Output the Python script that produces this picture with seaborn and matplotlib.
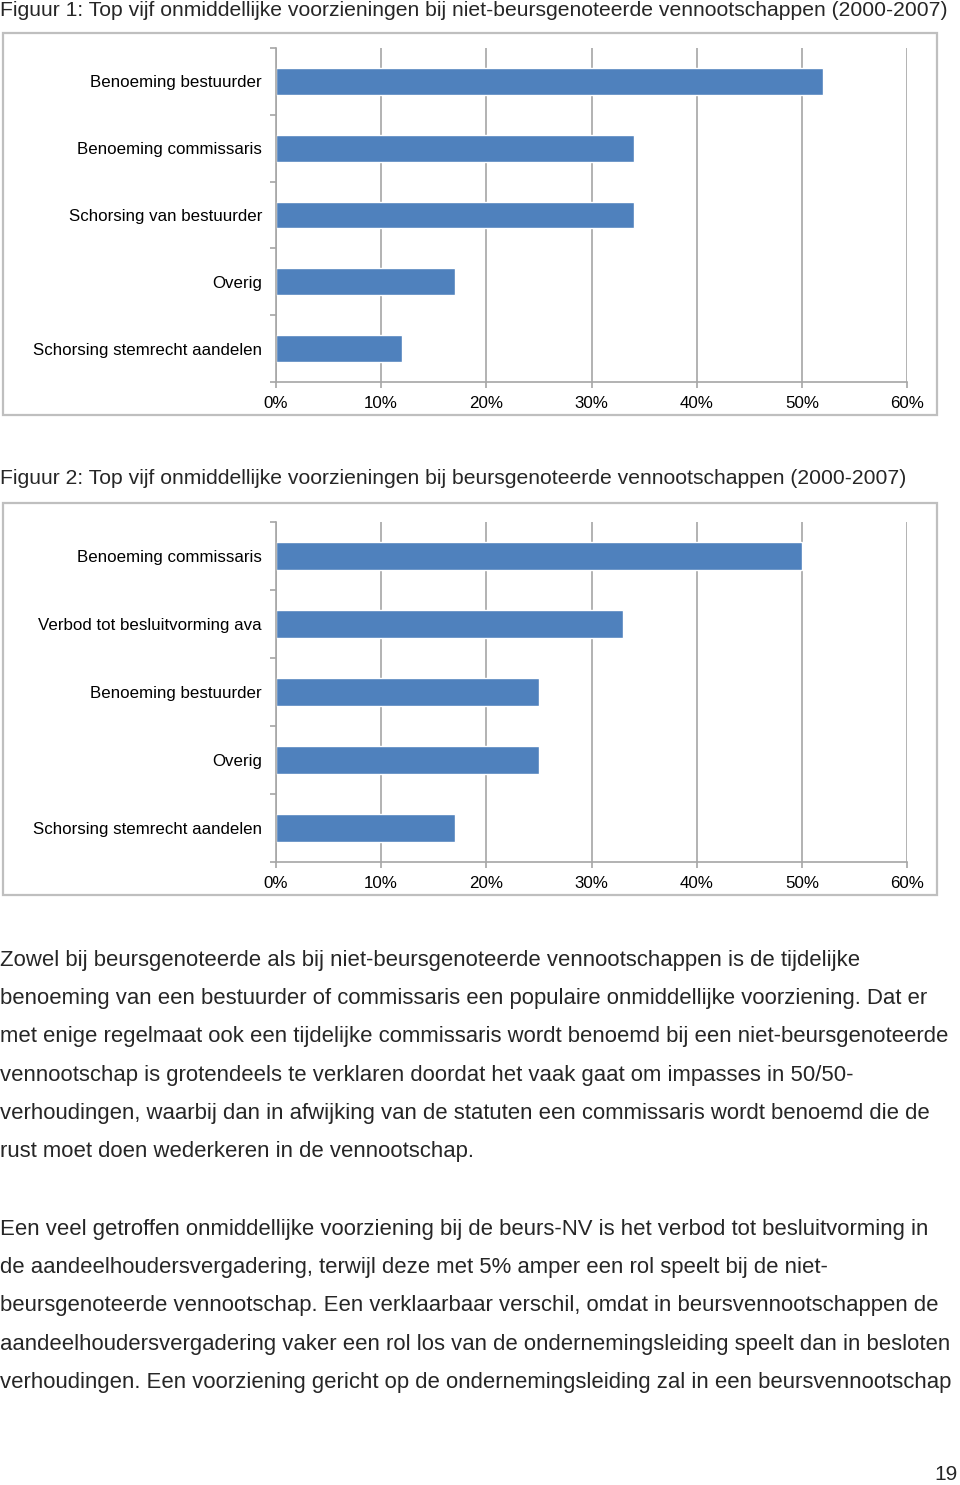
import numpy as np
import pandas as pd
import matplotlib
matplotlib.use('Agg')
import matplotlib.pyplot as plt
import seaborn as sns
from matplotlib.patches import Rectangle

# Figuur 1: niet-beursgenoteerde vennootschappen (percentages)
labels_1 = ['Benoeming bestuurder', 'Benoeming commissaris', 'Schorsing van bestuurder',
            'Overig', 'Schorsing stemrecht aandelen']
values_1 = [52, 34, 34, 17, 12]

# Figuur 2: beursgenoteerde vennootschappen (percentages)
labels_2 = ['Benoeming commissaris', 'Verbod tot besluitvorming ava', 'Benoeming bestuurder',
            'Overig', 'Schorsing stemrecht aandelen']
values_2 = [50, 33, 25, 25, 17]

x_ticks = [0, 10, 20, 30, 40, 50, 60]

title_1 = 'Figuur 1: Top vijf onmiddellijke voorzieningen bij niet-beursgenoteerde vennootschappen (2000-2007)'
title_2 = 'Figuur 2: Top vijf onmiddellijke voorzieningen bij beursgenoteerde vennootschappen (2000-2007)'

alinea_1 = [
    'Zowel bij beursgenoteerde als bij niet-beursgenoteerde vennootschappen is de tijdelijke',
    'benoeming van een bestuurder of commissaris een populaire onmiddellijke voorziening. Dat er',
    'met enige regelmaat ook een tijdelijke commissaris wordt benoemd bij een niet-beursgenoteerde',
    'vennootschap is grotendeels te verklaren doordat het vaak gaat om impasses in 50/50-',
    'verhoudingen, waarbij dan in afwijking van de statuten een commissaris wordt benoemd die de',
    'rust moet doen wederkeren in de vennootschap.',
]
alinea_2 = [
    'Een veel getroffen onmiddellijke voorziening bij de beurs-NV is het verbod tot besluitvorming in',
    'de aandeelhoudersvergadering, terwijl deze met 5% amper een rol speelt bij de niet-',
    'beursgenoteerde vennootschap. Een verklaarbaar verschil, omdat in beursvennootschappen de',
    'aandeelhoudersvergadering vaker een rol los van de ondernemingsleiding speelt dan in besloten',
    'verhoudingen. Een voorziening gericht op de ondernemingsleiding zal in een beursvennootschap',
]
page_nr = '19'

sns.set_theme(style='white')
plt.rcParams['font.family'] = ['Liberation Sans', 'DejaVu Sans']

W, H = 960, 1485
fig = plt.figure(figsize=(W / 100, H / 100), dpi=100)
fig.patch.set_facecolor('white')

bar_blue = '#4f81bd'
grid_grey = '#a6a6a6'
frame_grey = '#bfbfbf'


def px_axes(left, top, right, bottom):
    return fig.add_axes([left / W, 1 - bottom / H, (right - left) / W, (bottom - top) / H])


def frame(left, top, right, bottom):
    fig.add_artist(Rectangle((left / W, 1 - bottom / H), (right - left) / W, (bottom - top) / H,
                             transform=fig.transFigure, fill=False,
                             edgecolor=frame_grey, linewidth=1.6))


def draw_chart(ax, labels, values):
    df = pd.DataFrame({'categorie': labels, 'aandeel': values})
    sns.barplot(data=df, x='aandeel', y='categorie', orient='h', color=bar_blue,
                saturation=1, width=0.4, ax=ax)
    ax.set_xlim(0, 60)
    ax.set_ylim(len(labels) - 0.5, -0.5)
    ax.set_xticks(x_ticks)
    ax.set_xticklabels([f'{t}%' for t in x_ticks])
    ax.set_yticks(np.arange(-0.5, len(labels)), minor=True)
    ax.set_xlabel('')
    ax.set_ylabel('')
    ax.grid(axis='x', color=grid_grey, linewidth=1.2)
    ax.grid(axis='y', visible=False)
    ax.set_axisbelow(True)
    for side in ['top', 'right']:
        ax.spines[side].set_visible(False)
    for side in ['left', 'bottom']:
        ax.spines[side].set_color(grid_grey)
        ax.spines[side].set_linewidth(1.2)
    ax.tick_params(axis='x', which='major', bottom=True, length=4, width=1.2,
                   color=grid_grey, pad=6, labelsize=12.2, labelcolor='black')
    ax.tick_params(axis='y', which='major', left=False, length=0, pad=10,
                   labelsize=12.2, labelcolor='black')
    ax.tick_params(axis='y', which='minor', left=True, length=4, width=1.2, color=grid_grey)
    ax.set_facecolor('white')


frame(3, 33, 937, 415)
ax1 = px_axes(276, 48, 907, 382)
draw_chart(ax1, labels_1, values_1)

frame(3, 503, 937, 895)
ax2 = px_axes(276, 522, 907, 862)
draw_chart(ax2, labels_2, values_2)

fig.text(0, 1 - 10 / H, title_1, fontsize=15.25, ha='left', va='center')
fig.text(0, 1 - 478 / H, title_2, fontsize=15.25, ha='left', va='center')

line_gap = 38.4
for i, line in enumerate(alinea_1):
    fig.text(0, 1 - (960 + i * line_gap) / H, line, fontsize=15.9, ha='left', va='center')
for i, line in enumerate(alinea_2):
    fig.text(0, 1 - (1229 + i * line_gap) / H, line, fontsize=15.9, ha='left', va='center')

fig.text(958 / W, 1 - 1475 / H, page_nr, fontsize=15, ha='right', va='center')

fig.savefig('out.png', dpi=100, facecolor='white')
